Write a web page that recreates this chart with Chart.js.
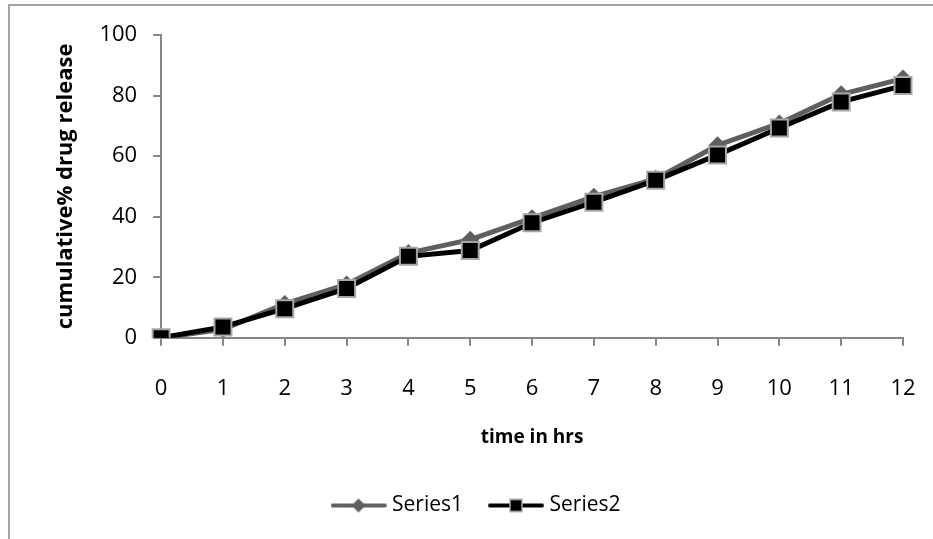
<!DOCTYPE html>
<html>
<head>
<meta charset="utf-8">
<script src="https://cdn.jsdelivr.net/npm/chart.js"></script>
<style>
  html, body { margin: 0; padding: 0; background: #fff; }
  #wrap { position: relative; width: 933px; height: 539px; overflow: hidden; }
  #frame { position: absolute; left: 8px; top: 4px; right: -10px; bottom: -10px;
           border-left: 2px solid #a3a3a3; border-top: 2px solid #a3a3a3; }
  #releaseChart { position: absolute; left: 0; top: 0; }
</style>
</head>
<body>
<div id="wrap">
  <div id="frame"></div>
  <canvas id="releaseChart" width="933" height="539"></canvas>
</div>
<script>
// time points (hrs)
const hours = ['0', '1', '2', '3', '4', '5', '6', '7', '8', '9', '10', '11', '12'];
// cumulative % drug release
const series1 = [0, 2.8, 11.2, 17.6, 28.0, 32.4, 39.5, 46.6, 52.5, 63.6, 70.8, 80.4, 85.6];
const series2 = [0, 3.6, 9.6, 16.3, 26.9, 28.8, 38.0, 44.8, 52.0, 60.4, 69.3, 77.9, 83.3];
const yTicks = [0, 20, 40, 60, 80, 100];

const font = '"Open Sans", "Noto Sans", sans-serif';
const axisGrey = '#868686';

// little line + marker icons for the legend
function legendIcon(lineColor, drawMarker) {
    const c = document.createElement('canvas');
    c.width = 56;
    c.height = 20;
    const ctx = c.getContext('2d');
    ctx.strokeStyle = lineColor;
    ctx.lineWidth = 4;
    ctx.lineCap = 'round';
    ctx.beginPath();
    ctx.moveTo(2, 10);
    ctx.lineTo(54, 10);
    ctx.stroke();
    drawMarker(ctx, 28, 10);
    return c;
}

const icon1 = legendIcon('#5f5f5f', (ctx, x, y) => {
    ctx.fillStyle = '#5f5f5f';
    ctx.beginPath();
    ctx.moveTo(x - 7, y);
    ctx.lineTo(x, y - 7);
    ctx.lineTo(x + 7, y);
    ctx.lineTo(x, y + 7);
    ctx.closePath();
    ctx.fill();
});

const icon2 = legendIcon('#000', (ctx, x, y) => {
    ctx.fillStyle = '#000';
    ctx.fillRect(x - 6, y - 6, 12, 12);
    ctx.strokeStyle = '#a6a6a6';
    ctx.lineWidth = 1.5;
    ctx.strokeRect(x - 6, y - 6, 12, 12);
});

new Chart(document.getElementById('releaseChart'), {
    type: 'line',
    data: {
        labels: hours,
        datasets: [{
            label: 'Series1',
            data: series1,
            borderColor: '#5f5f5f',
            backgroundColor: '#5f5f5f',
            borderWidth: 5,
            pointStyle: 'rectRot',
            pointRadius: 9,
            pointBorderWidth: 0,
            pointBackgroundColor: '#5f5f5f',
            order: 1
        }, {
            label: 'Series2',
            data: series2,
            borderColor: '#000',
            backgroundColor: '#000',
            borderWidth: 5,
            pointStyle: 'rect',
            pointRadius: 12,
            pointBorderWidth: 2,
            pointBorderColor: '#a6a6a6',
            pointBackgroundColor: '#000',
            order: 0
        }]
    },
    options: {
        responsive: false,
        animation: false,
        layout: {
            padding: { left: 53, top: 35, right: 30, bottom: 13 }
        },
        scales: {
            x: {
                // the big tick padding would otherwise widen the right margin too
                afterFit: scale => { scale.paddingRight = 0; },
                grid: { drawOnChartArea: false, tickLength: 8, color: axisGrey, lineWidth: 2 },
                border: { color: axisGrey, width: 2 },
                ticks: { color: '#000', font: { family: font, size: 22 }, padding: 30 },
                title: {
                    display: true,
                    text: 'time in hrs',
                    color: '#000',
                    font: { family: font, size: 19, weight: 'bold' },
                    padding: { top: -6, bottom: 16 }
                }
            },
            y: {
                min: 0,
                max: 100,
                afterBuildTicks: axis => { axis.ticks = yTicks.map(v => ({ value: v })); },
                grid: { drawOnChartArea: false, tickLength: 8, color: axisGrey, lineWidth: 2 },
                border: { color: axisGrey, width: 2 },
                ticks: { color: '#000', font: { family: font, size: 22 }, padding: 16 },
                title: {
                    display: true,
                    text: 'cumulative% drug release',
                    color: '#000',
                    font: { family: font, size: 22, weight: 'bold' },
                    padding: { top: 0, bottom: 4 }
                }
            }
        },
        plugins: {
            tooltip: { enabled: false },
            legend: {
                position: 'bottom',
                labels: {
                    color: '#000',
                    font: { family: font, size: 21 },
                    usePointStyle: true,
                    pointStyleWidth: 46,
                    padding: 30,
                    sort: (a, b) => a.datasetIndex - b.datasetIndex,
                    generateLabels: chart => chart.data.datasets.map((ds, i) => ({
                        text: ds.label,
                        datasetIndex: i,
                        pointStyle: i === 0 ? icon1 : icon2,
                        fontColor: '#000',
                        lineWidth: 0,
                        strokeStyle: 'transparent',
                        fillStyle: 'transparent',
                        hidden: false
                    }))
                }
            }
        }
    }
});
</script>
</body>
</html>
